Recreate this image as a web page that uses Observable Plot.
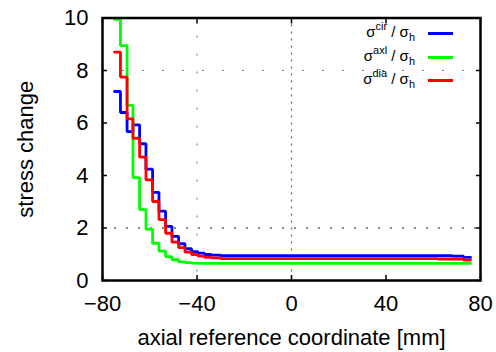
<!DOCTYPE html>
<html><head><meta charset="utf-8">
<script src="https://cdn.jsdelivr.net/npm/d3@7"></script>
<script src="https://cdn.jsdelivr.net/npm/@observablehq/plot@0.6"></script>
<style>
body{margin:0;background:#fff;}
#wrap{position:relative;width:496px;height:352px;font-family:"Liberation Sans",Arial,sans-serif;overflow:hidden;}
.legtxt{position:absolute;right:81px;height:20px;line-height:20px;font-size:15px;color:#000;white-space:nowrap;}
.legtxt .sup{position:relative;top:-7px;font-size:11px;}
.legtxt .sub{position:relative;top:4px;font-size:11px;}
.legline{position:absolute;left:428px;width:25px;height:3px;}
</style></head><body><div id="wrap"></div>
<script>
// step start positions [mm] (last entry = end of final step)
const xEdges = [-74.9, -72.4, -69.6, -67.1, -64.3, -61.6, -58.8, -56.1, -53.3, -50.6, -47.8, -45.1, -42.3, -39.6, -36.8, -34.0, -30.0, 62.0, 68.0, 72.8, 75.8];
const cirValues = [7.20, 6.40, 5.67, 5.93, 5.21, 4.24, 3.36, 2.64, 2.06, 1.68, 1.40, 1.21, 1.10, 1.04, 0.99, 0.97, 0.95, 0.95, 0.93, 0.88, 0.88];
const axlValues = [9.95, 8.95, 6.67, 3.92, 2.70, 1.95, 1.42, 1.12, 0.91, 0.79, 0.71, 0.68, 0.66, 0.65, 0.65, 0.65, 0.65, 0.65, 0.65, 0.65, 0.65];
const diaValues = [8.70, 7.75, 6.16, 5.42, 4.70, 3.83, 3.01, 2.32, 1.80, 1.46, 1.25, 1.08, 0.99, 0.93, 0.88, 0.86, 0.83, 0.82, 0.82, 0.78, 0.78];
const legendTexts = ["cir", "axl", "dia"];
const seriesColors = ["#0000ff", "#00ff00", "#ff0000"];
const xTicks = [-80, -40, 0, 40, 80];
const yTicks = [0, 2, 4, 6, 8, 10];
const xLabel = "axial reference coordinate [mm]";
const yLabel = "stress change";

const seriesValues = [cirValues, axlValues, diaValues];

const noText = () => "";
const plot = Plot.plot({
  width: 496, height: 352,
  marginLeft: 102, marginRight: 16, marginTop: 17.5, marginBottom: 72,
  style: {fontFamily: "Liberation Sans, Arial, sans-serif", fontSize: "22px", color: "#000", background: "#fff"},
  x: {domain: [-80, 80]},
  y: {domain: [0, 10]},
  marks: [
    Plot.ruleX([0], {stroke: "#666", strokeWidth: 1.2, strokeDasharray: "2,5"}),
    Plot.ruleX([-40], {stroke: "#888", strokeWidth: 1.2, strokeDasharray: "2,16"}),
    Plot.ruleY([2], {stroke: "#666", strokeWidth: 1.5, strokeDasharray: "2,10"}),
    Plot.ruleY([8], {stroke: "#888", strokeWidth: 1.2, strokeDasharray: "2,18"}),
    ...seriesValues.map((vals, i) => Plot.line(xEdges, {
      x: xEdges, y: vals, curve: "step-after",
      stroke: seriesColors[i], strokeWidth: 2.8, strokeLinejoin: "miter"
    })),
    Plot.axisX(xTicks, {tickSize: 0, tickPadding: 15, label: null, fontSize: 22}),
    Plot.axisY(yTicks, {tickSize: 0, tickPadding: 14, label: null, fontSize: 22}),
    Plot.axisX(xTicks, {anchor: "bottom", tickSize: -5, tickFormat: noText, label: null, strokeWidth: 1.5}),
    Plot.axisX(xTicks, {anchor: "top", tickSize: -5, tickFormat: noText, label: null, strokeWidth: 1.5}),
    Plot.axisY(yTicks, {anchor: "left", tickSize: -5, tickFormat: noText, label: null, strokeWidth: 1.5}),
    Plot.axisY(yTicks, {anchor: "right", tickSize: -5, tickFormat: noText, label: null, strokeWidth: 1.5}),
    Plot.frame({stroke: "#000", strokeWidth: 2.5}),
    Plot.text([xLabel], {frameAnchor: "bottom", dy: 64, fontSize: 22, fill: "#000"}),
    Plot.text([yLabel], {frameAnchor: "left", dx: -77, rotate: -90, textAnchor: "middle", fontSize: 22, fill: "#000"})
  ]
});
const wrap = document.getElementById("wrap");
wrap.appendChild(plot);

const rowY = [33, 57, 80];
legendTexts.forEach((sup, i) => {
  const t = document.createElement("div");
  t.className = "legtxt";
  t.style.top = (rowY[i] - 11) + "px";
  t.innerHTML = `σ<span class="sup">${sup}</span> / σ<span class="sub">h</span>`;
  wrap.appendChild(t);
  const l = document.createElement("div");
  l.className = "legline";
  l.style.top = (rowY[i] - 1.5) + "px";
  l.style.background = seriesColors[i];
  wrap.appendChild(l);
});
</script>
</body></html>
